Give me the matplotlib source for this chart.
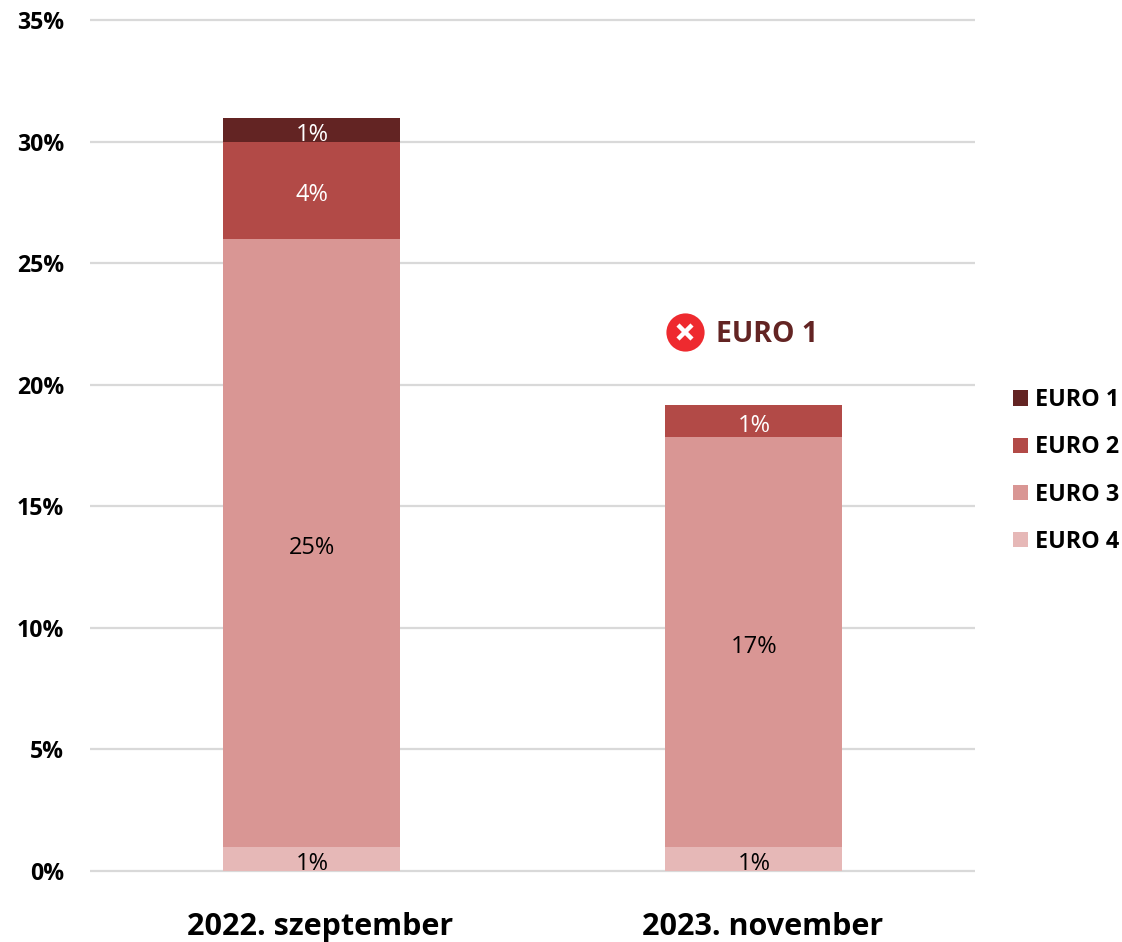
from matplotlib import pyplot as plt
from matplotlib.transforms import ScaledTranslation
import numpy as np

plt.rcParams['font.family'] = ['Open Sans', 'DejaVu Sans']

kategoriak = ["2022. szeptember", "2023. november"]
sorozatok = ["EURO 4", "EURO 3", "EURO 2", "EURO 1"]
euro4 = [1, 1]
euro3 = [25, 16.85]
euro2 = [4, 1.33]
euro1 = [0.97, 0]
szinek = ["#E6B8B7", "#D99694", "#B24A47", "#632423"]
cimke_szinek = ["black", "black", "white", "white"]
y_ticks = [0, 5, 10, 15, 20, 25, 30, 35]

W, H = 1122, 942
fig = plt.figure(figsize=(W / 100, H / 100), dpi=100)
ax = fig.add_axes([90 / W, 1 - 871 / H, 885 / W, 851 / H])

x = np.arange(len(kategoriak))
alja = np.zeros(len(kategoriak))
for nev, ertekek, szin, cszin in zip(sorozatok, [euro4, euro3, euro2, euro1], szinek, cimke_szinek):
    ertekek = np.array(ertekek, dtype=float)
    ax.bar(x, ertekek, width=0.4, bottom=alja, color=szin, label=nev, zorder=3)
    for xi, a, v in zip(x, alja, ertekek):
        if v > 0:
            ax.annotate(f"{round(v)}%", (xi, a + v / 2), xytext=(0.5, -3.5), textcoords='offset points',
                        ha='center', va='center', fontsize=17, color=cszin, zorder=4)
    alja += ertekek

ax.set_xlim(-0.5, 1.5)
ax.set_ylim(0, 35)
ax.set_xticks(x)
ax.set_xticklabels(kategoriak, fontsize=22, fontweight='bold')
ax.set_yticks(y_ticks)
ax.set_yticklabels([f"{t}%" for t in y_ticks], fontsize=16.7, fontweight='bold')
ax.tick_params(axis='x', length=0, pad=29.6)
ax.tick_params(axis='y', length=0, pad=18.7)
# a kategoria feliratok kicsit jobbra vannak a oszlopokhoz kepest
for lab in ax.get_xticklabels():
    lab.set_transform(lab.get_transform() + ScaledTranslation(8.5 / 100, 0, fig.dpi_scale_trans))
for s in ax.spines.values():
    s.set_visible(False)
ax.grid(axis='y', color='#D9D9D9', linewidth=1.6, zorder=0)
ax.set_axisbelow(True)
for gl in ax.get_ygridlines():
    gl.set_clip_on(False)
    gl.set_solid_capstyle('butt')

# piros x jel es felirat
ax.plot([0.8446], [22.17], 'o', color='#EE2A2F', markersize=27.5, clip_on=False, zorder=5, mew=0)
ax.plot([0.8446], [22.17], 'x', color='white', markersize=10.5, mew=3.2, clip_on=False, zorder=6)
ax.annotate("EURO 1", (0.8446 + 0.0705, 22.17), xytext=(0, -2), textcoords='offset points',
            fontsize=20.4, fontweight='bold', color='#632423', va='center', ha='left')

h, l = ax.get_legend_handles_labels()
fig.legend(h[::-1], l[::-1], loc='center left', bbox_to_anchor=(1013 / W, 1 - 471 / H),
           frameon=False, prop={'size': 16.8, 'weight': 'bold'}, handlelength=0.64,
           handleheight=0.64, handletextpad=0.3, labelspacing=0.99, borderpad=0, borderaxespad=0)

fig.savefig('out.png', dpi=100)
